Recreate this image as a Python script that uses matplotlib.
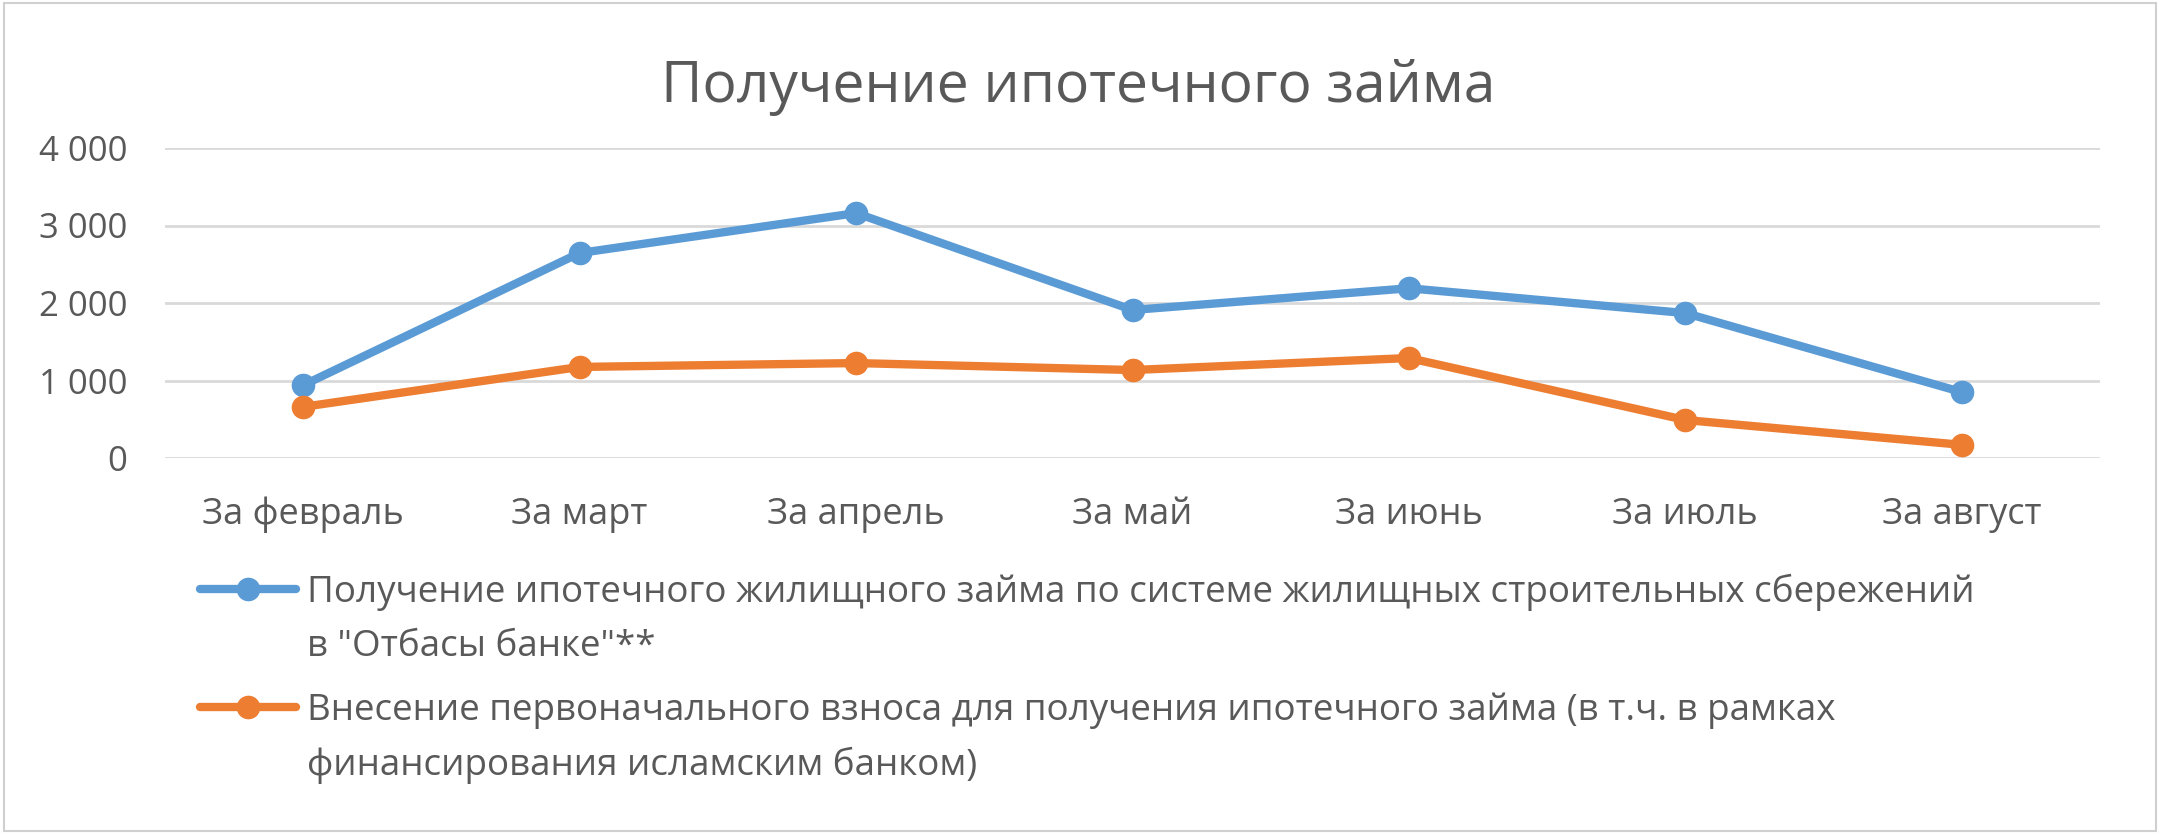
import matplotlib.pyplot as plt
from matplotlib.patches import Rectangle
from matplotlib.ticker import FuncFormatter

# Datos
meses = ["За февраль", "За март", "За апрель", "За май", "За июнь", "За июль", "За август"]
zaem_otbasy = [940, 2645, 3160, 1910, 2190, 1870, 850]
pervonach_vznos = [660, 1175, 1225, 1135, 1290, 490, 170]
# etiquetas de la leyenda (primera linea, segunda linea)
label_otbasy = ["Получение ипотечного жилищного займа по системе жилищных строительных сбережений",
                "в \"Отбасы банке\"**"]
label_vznos = ["Внесение первоначального взноса для получения ипотечного займа (в т.ч. в рамках",
               "финансирования исламским банком)"]
titulo = "Получение ипотечного займа"

AZUL = "#5B9BD5"
NARANJA = "#ED7D31"
GRIS_TXT = "#595959"
FS_LEG = 26.5

plt.rcParams['font.family'] = ['Open Sans', 'DejaVu Sans']

W, H = 2160, 834
fig = plt.figure(figsize=(W / 100, H / 100), dpi=100)

# marco exterior
fig.patches.append(Rectangle((0.002, 0.004), 0.996, 0.992, transform=fig.transFigure,
                             fill=False, edgecolor="#D0D0D0", linewidth=1.5))

ax = fig.add_axes([165 / W, 1 - 458 / H, (2100 - 165) / W, (458 - 148) / H])
x = list(range(len(meses)))
l1, = ax.plot(x, zaem_otbasy, color=AZUL, lw=6, marker="o", markersize=16,
              solid_capstyle="round")
l2, = ax.plot(x, pervonach_vznos, color=NARANJA, lw=6, marker="o", markersize=16,
              solid_capstyle="round")

ax.set_xlim(-0.5, len(meses) - 0.5)
ax.set_ylim(0, 4000)
ax.set_yticks([0, 1000, 2000, 3000, 4000])
ax.yaxis.set_major_formatter(FuncFormatter(lambda v, p: "{:,}".format(int(v)).replace(",", " ")))
ax.set_xticks(x)
ax.set_xticklabels(meses)
ax.grid(axis="y", color="#D9D9D9", lw=2)
ax.set_axisbelow(True)
for s in ax.spines.values():
    s.set_visible(False)
ax.tick_params(axis="both", length=0, labelcolor=GRIS_TXT)
ax.tick_params(axis="x", pad=28, labelsize=26)
ax.tick_params(axis="y", pad=27, labelsize=25)

fig.text(0.499, 1 - 87 / H, titulo, ha="center", va="center", fontsize=41, color=GRIS_TXT)

# leyenda: el marcador va alineado con la primera linea, la segunda se agrega aparte
leg = fig.legend([l1, l2], [label_otbasy[0], label_vznos[0]], loc="upper left",
                 bbox_to_anchor=(200 / W, 1 - 574 / H), frameon=False,
                 fontsize=FS_LEG, labelcolor=GRIS_TXT, handlelength=2.6, handletextpad=0.3,
                 labelspacing=2.21, borderpad=0, borderaxespad=0)
fig.canvas.draw()
for t, lab in zip(leg.get_texts(), [label_otbasy, label_vznos]):
    bb = t.get_window_extent()
    fig.text(bb.x0 / W, ((bb.y0 + bb.y1) / 2 - 54) / H, lab[1], ha="left", va="center",
             fontsize=FS_LEG, color=GRIS_TXT)

fig.savefig("out.png", dpi=100)
